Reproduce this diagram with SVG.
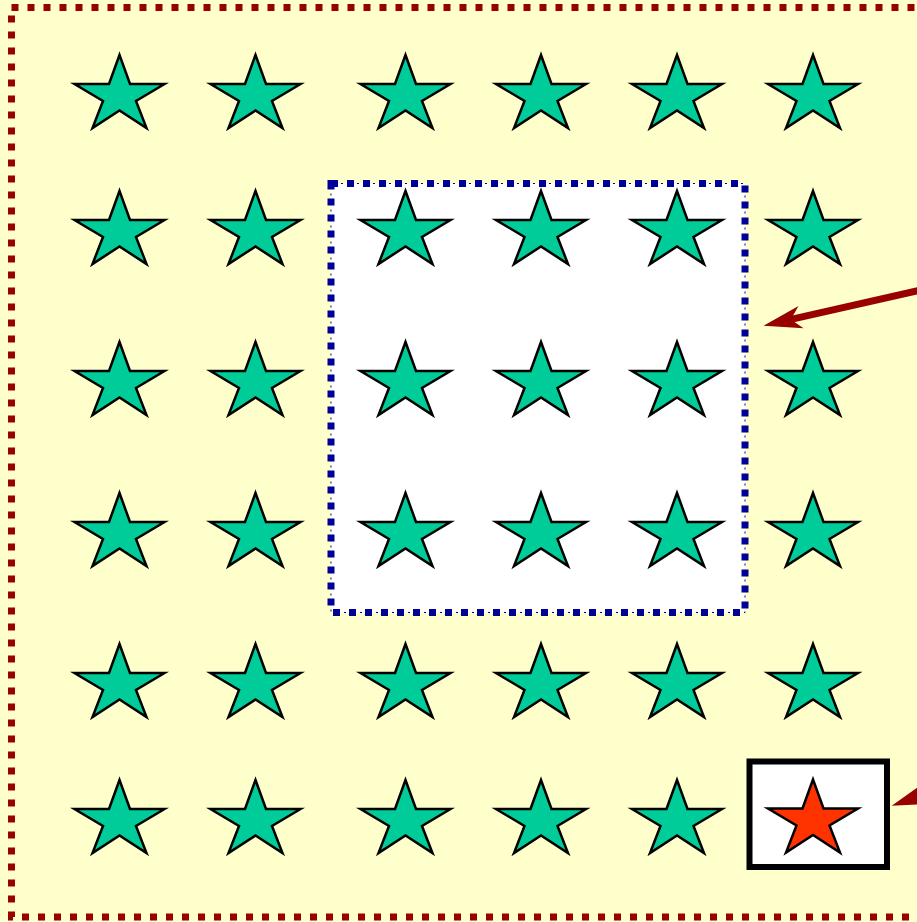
<svg xmlns="http://www.w3.org/2000/svg" xmlns:xlink="http://www.w3.org/1999/xlink" width="917" height="922" viewBox="0 0 917 922">
<style>
.bg{fill:#ffffcc}
.frame{fill:#ffffcc;stroke:#990000;stroke-width:7;stroke-dasharray:7 9}
.zone{fill:#ffffff;stroke:#000099;stroke-width:7;stroke-dasharray:7 9}
.zone-thin{fill:none;stroke:#000099;stroke-width:1;stroke-dasharray:0 10 2 4}
.g{fill:#00cc99}
.r{fill:#ff3300}
.callout{fill:#ffffff;stroke:#000000;stroke-width:6}
.arrow{stroke:#990000;stroke-width:7;fill:none}
</style>
<defs>
<path id="star" d="M0,-36 L10.5,-7 L45,-7 L16.5,10 L27,37 L0,19.5 L-27,37 L-16.5,10 L-45,-7 L-10.5,-7 Z" stroke="#000000" stroke-width="2.5" stroke-linejoin="miter"/>
<marker id="head" markerUnits="userSpaceOnUse" orient="auto" refX="0" refY="0" markerWidth="60" markerHeight="40" overflow="visible">
<path d="M26,0 L-12.5,-11.4 L-2,0 L-12.5,11.4 Z" fill="#990000"/>
</marker>
</defs>
<rect class="bg" x="0" y="0" width="917" height="922"/>
<g id="frame"><rect class="frame" x="11.5" y="7.5" width="930" height="909.5"/></g>
<g id="zone">
<rect class="zone" x="331" y="183.5" width="414" height="429"/>
<rect class="zone-thin" x="331" y="183.5" width="414" height="429"/>
</g>
<g id="stars">
<use id="s11" class="g" xlink:href="#star" x="119.5" y="91"/>
<use id="s12" class="g" xlink:href="#star" x="255.5" y="91"/>
<use id="s13" class="g" xlink:href="#star" x="405.5" y="91"/>
<use id="s14" class="g" xlink:href="#star" x="541" y="91"/>
<use id="s15" class="g" xlink:href="#star" x="677" y="91"/>
<use id="s16" class="g" xlink:href="#star" x="813" y="91"/>
<use id="s21" class="g" xlink:href="#star" x="119.5" y="227"/>
<use id="s22" class="g" xlink:href="#star" x="255.5" y="227"/>
<use id="s23" class="g" xlink:href="#star" x="405.5" y="227"/>
<use id="s24" class="g" xlink:href="#star" x="541" y="227"/>
<use id="s25" class="g" xlink:href="#star" x="677" y="227"/>
<use id="s26" class="g" xlink:href="#star" x="813" y="227"/>
<use id="s31" class="g" xlink:href="#star" x="119.5" y="378"/>
<use id="s32" class="g" xlink:href="#star" x="255.5" y="378"/>
<use id="s33" class="g" xlink:href="#star" x="405.5" y="378"/>
<use id="s34" class="g" xlink:href="#star" x="541" y="378"/>
<use id="s35" class="g" xlink:href="#star" x="677" y="378"/>
<use id="s36" class="g" xlink:href="#star" x="813" y="378"/>
<use id="s41" class="g" xlink:href="#star" x="119.5" y="529"/>
<use id="s42" class="g" xlink:href="#star" x="255.5" y="529"/>
<use id="s43" class="g" xlink:href="#star" x="405.5" y="529"/>
<use id="s44" class="g" xlink:href="#star" x="541" y="529"/>
<use id="s45" class="g" xlink:href="#star" x="677" y="529"/>
<use id="s46" class="g" xlink:href="#star" x="813" y="529"/>
<use id="s51" class="g" xlink:href="#star" x="119.5" y="680"/>
<use id="s52" class="g" xlink:href="#star" x="255.5" y="680"/>
<use id="s53" class="g" xlink:href="#star" x="405.5" y="680"/>
<use id="s54" class="g" xlink:href="#star" x="541" y="680"/>
<use id="s55" class="g" xlink:href="#star" x="677" y="680"/>
<use id="s56" class="g" xlink:href="#star" x="813" y="680"/>
<use id="s61" class="g" xlink:href="#star" x="119.5" y="816"/>
<use id="s62" class="g" xlink:href="#star" x="255.5" y="816"/>
<use id="s63" class="g" xlink:href="#star" x="405.5" y="816"/>
<use id="s64" class="g" xlink:href="#star" x="541" y="816"/>
<use id="s65" class="g" xlink:href="#star" x="677" y="816"/>
</g>
<g id="callout">
<rect class="callout" x="749.5" y="761.5" width="137.5" height="105.5"/>
<use id="s66" class="r" xlink:href="#star" x="813" y="815.5"/>
</g>
<g id="connectors">
<line class="arrow" x1="958.5" y1="281.4" x2="788.85" y2="319.94" marker-end="url(#head)"/>
<line class="arrow" x1="1080.8" y1="740.6" x2="916.3" y2="797.2" marker-end="url(#head)"/>
</g>
</svg>
